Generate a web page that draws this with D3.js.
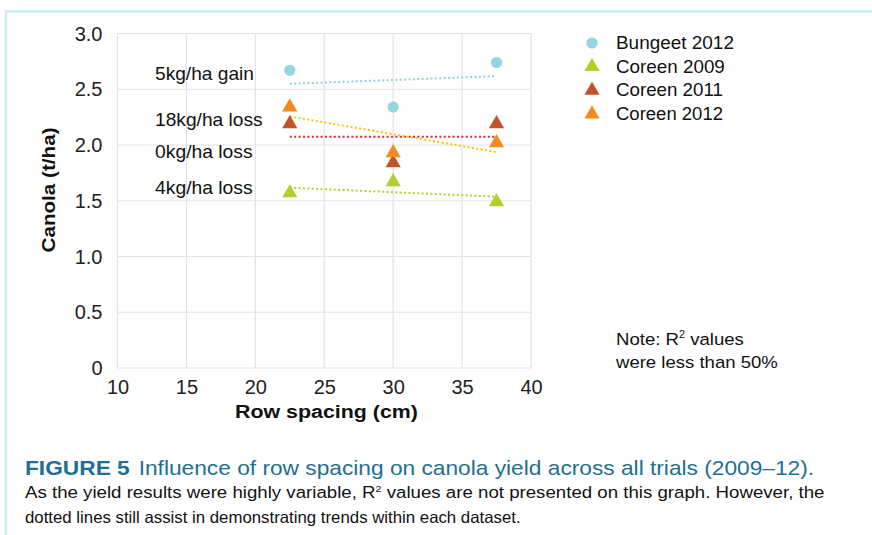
<!DOCTYPE html>
<html>
<head>
<meta charset="utf-8">
<script src="https://cdn.jsdelivr.net/npm/d3@7"></script>
<style>
  body { margin: 0; background: #fff; }
  svg { display: block; font-family: "Liberation Sans", Arial, sans-serif; }
</style>
</head>
<body>
<svg width="872" height="535"></svg>
<script>
// row spacing (cm) and canola yield (t/ha) per trial
var spacing = [22.5, 30, 37.5];
var bungeet2012 = [2.67, 2.34, 2.74];
var coreen2009 = [1.57, 1.67, 1.49];
var coreen2011 = [2.19, 1.84, 2.19];
var coreen2012 = [2.34, 1.93, 2.02];

var seriesNames = ['Bungeet 2012', 'Coreen 2009', 'Coreen 2011', 'Coreen 2012'];
var trendLabels = ['5kg/ha gain', '4kg/ha loss', '0kg/ha loss', '18kg/ha loss'];
var xTicks = [10, 15, 20, 25, 30, 35, 40];
var yTicks = [0, 0.5, 1.0, 1.5, 2.0, 2.5, 3.0];

var series = [
  {name: seriesNames[0], values: bungeet2012, shape: 'circle', color: '#94d5e1', trend: '#8fd0dd'},
  {name: seriesNames[1], values: coreen2009, shape: 'tri', color: '#b3cf2e', trend: '#b3cf2e'},
  {name: seriesNames[2], values: coreen2011, shape: 'tri', color: '#c0532a', trend: '#e0282c'},
  {name: seriesNames[3], values: coreen2012, shape: 'tri', color: '#f48a20', trend: '#f7c600'}
];

var svg = d3.select('svg');

// stretch a text horizontally so it spans the width seen in the figure
function fitWidth(sel, x0, w) {
  var bw = sel.node().getBBox().width;
  var k = w / bw;
  sel.attr('transform', 'translate(' + x0 + ',0) scale(' + k + ',1) translate(' + (-x0) + ',0)');
  return sel;
}

// outer frame
svg.append('path')
  .attr('d', 'M6,535 V11.5 H872')
  .attr('fill', 'none')
  .attr('stroke', '#cdeef1')
  .attr('stroke-width', 2.5);

var x = d3.scaleLinear().domain([10, 40]).range([117.5, 531]);
var y = d3.scaleLinear().domain([0, 3]).range([368, 33.5]);

// grid
var grid = svg.append('g');
grid.selectAll('line.v').data(xTicks).enter().append('line')
  .attr('x1', function(d) { return x(d); }).attr('x2', function(d) { return x(d); })
  .attr('y1', y(0)).attr('y2', y(3))
  .attr('stroke', '#e3e3e3').attr('stroke-width', 1.2);
grid.selectAll('line.h').data(yTicks).enter().append('line')
  .attr('y1', function(d) { return y(d); }).attr('y2', function(d) { return y(d); })
  .attr('x1', x(10)).attr('x2', x(40))
  .attr('stroke', '#e3e3e3').attr('stroke-width', 1.2);

// axes labels
var yAxis = d3.axisLeft(y).tickValues(yTicks).tickSize(0).tickPadding(15)
  .tickFormat(function(d) { return d === 0 ? '0' : d3.format('.1f')(d); });
svg.append('g').attr('transform', 'translate(' + x(10) + ',0)').call(yAxis)
  .call(function(g) { g.select('.domain').remove(); })
  .selectAll('text').attr('font-size', 20).attr('fill', '#222').attr('dy', '0.33em')
  .attr('font-family', '"Liberation Sans", Arial, sans-serif');

var xAxis = d3.axisBottom(x).tickValues(xTicks).tickSize(0).tickPadding(12);
svg.append('g').attr('transform', 'translate(0,' + y(0) + ')').call(xAxis)
  .call(function(g) { g.select('.domain').remove(); })
  .selectAll('text').attr('font-size', 20).attr('fill', '#222')
  .attr('font-family', '"Liberation Sans", Arial, sans-serif');

fitWidth(svg.append('text')
  .attr('x', 235).attr('y', 418)
  .attr('font-size', 19).attr('font-weight', 'bold').attr('fill', '#111')
  .text('Row spacing (cm)'), 235, 183);

svg.append('text')
  .attr('transform', 'translate(55,190) rotate(-90)')
  .attr('text-anchor', 'middle').attr('font-size', 19).attr('font-weight', 'bold').attr('fill', '#111')
  .attr('textLength', 125).attr('lengthAdjust', 'spacingAndGlyphs')
  .text('Canola (t/ha)');

// trend lines (least squares over the three spacings)
function fit(vals) {
  var mx = d3.mean(spacing), my = d3.mean(vals);
  var num = d3.sum(spacing, function(s, i) { return (s - mx) * (vals[i] - my); });
  var den = d3.sum(spacing, function(s) { return (s - mx) * (s - mx); });
  var b = num / den;
  return function(s) { return my + b * (s - mx); };
}

var trendG = svg.append('g');
series.forEach(function(s) {
  var f = fit(s.values);
  var x0 = spacing[0], x1 = spacing[spacing.length - 1];
  trendG.append('line')
    .attr('x1', x(x0)).attr('y1', y(f(x0)))
    .attr('x2', x(x1)).attr('y2', y(f(x1)))
    .attr('stroke', s.trend).attr('stroke-width', 2)
    .attr('stroke-dasharray', '2,2.4');
});

// markers
var tri = d3.symbol().type(d3.symbolTriangle).size(100);
function drawMarker(g, shape, color, cx, cy) {
  if (shape === 'circle') {
    g.append('circle').attr('cx', cx).attr('cy', cy).attr('r', 5.6).attr('fill', color);
  } else {
    g.append('path').attr('d', tri).attr('transform', 'translate(' + cx + ',' + cy + ')').attr('fill', color);
  }
}
var markG = svg.append('g');
series.forEach(function(s) {
  s.values.forEach(function(v, i) {
    drawMarker(markG, s.shape, s.color, x(spacing[i]), y(v));
  });
});

// trend annotations
var annY = [80, 194, 158, 126];
var annW = [99, 98, 98, 108];
trendLabels.forEach(function(t, i) {
  fitWidth(svg.append('text').attr('x', 155).attr('y', annY[i])
    .attr('font-size', 17.5).attr('fill', '#111').text(t), 155, annW[i]);
});

// legend
var legW = [118, 109, 107, 107];
var legend = svg.append('g');
series.forEach(function(s, i) {
  var ly = 43 + i * 23.7;
  drawMarker(legend, s.shape, s.color, 592, ly);
  fitWidth(legend.append('text').attr('x', 616).attr('y', ly + 6)
    .attr('font-size', 18).attr('fill', '#111').text(s.name), 616, legW[i]);
});

// note
var note = svg.append('text').attr('x', 616).attr('y', 345).attr('font-size', 17).attr('fill', '#111');
note.append('tspan').text('Note: R');
note.append('tspan').attr('font-size', 10).attr('dy', -7).text('2');
note.append('tspan').attr('dy', 7).text(' values');
fitWidth(note, 616, 128);
fitWidth(svg.append('text').attr('x', 616).attr('y', 368).attr('font-size', 17).attr('fill', '#111')
  .text('were less than 50%'), 616, 163);

// caption
var cap = svg.append('text').attr('x', 25).attr('y', 475).attr('font-size', 20.5).attr('fill', '#1f6f92');
cap.append('tspan').attr('font-weight', 'bold').text('FIGURE 5');
cap.append('tspan').attr('dx', 8).text('Influence of row spacing on canola yield across all trials (2009\u201312).');
fitWidth(cap, 25, 790);

var c1 = svg.append('text').attr('x', 25).attr('y', 498).attr('font-size', 16.5).attr('fill', '#111');
c1.append('tspan').text('As the yield results were highly variable, R');
c1.append('tspan').attr('font-size', 9.5).attr('dy', -6).text('2');
c1.append('tspan').attr('dy', 6).text(' values are not presented on this graph. However, the');
fitWidth(c1, 25, 800);
fitWidth(svg.append('text').attr('x', 25).attr('y', 523).attr('font-size', 16.5).attr('fill', '#111')
  .text('dotted lines still assist in demonstrating trends within each dataset.'), 25, 496);
</script>
</body>
</html>
